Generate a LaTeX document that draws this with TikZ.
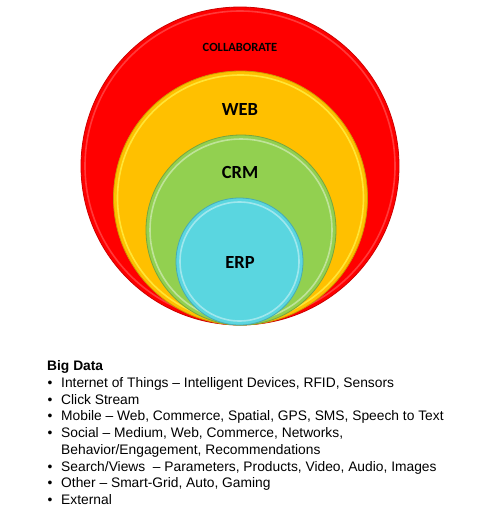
\documentclass[tikz,border=0pt]{standalone}
\usepackage{fontspec}
\setmainfont{Liberation Sans}
\newfontfamily\calib{Carlito}
\definecolor{cred}{HTML}{FF0000}
\definecolor{cyel}{HTML}{FFC000}
\definecolor{cgrn}{HTML}{92D050}
\definecolor{cblu}{HTML}{5AD6E0}
\begin{document}
\begin{tikzpicture}[x=1pt,y=-1pt,
  ring/.style={circle,inner sep=0pt,draw=#1!80!black,line width=0.8pt,fill=#1},
  rim/.style={circle,inner sep=0pt,draw=#1,line width=1.6pt,opacity=0.7},
  lbl/.style={text=black,inner sep=0pt},
  item/.style={anchor=base west,inner sep=0pt,font=\fontsize{13.8}{16.7}\selectfont},
  bul/.style={anchor=base west,inner sep=0pt,font=\fontsize{13.8}{16.7}\selectfont}]
\useasboundingbox[fill=white] (0,0) rectangle (480,520);
% circles
\node[ring=cred,minimum size=318pt] (red) at (240,166) {};
\node[rim=red!55!white,minimum size=310pt,opacity=0.5] (redrim) at (240,166) {};
\node[ring=cyel,minimum size=254pt] (yel) at (240.5,198) {};
\node[rim=yellow!70!white,minimum size=246pt] (yelrim) at (240.5,198) {};
\node[ring=cgrn,minimum size=190pt] (grn) at (241,230) {};
\node[rim=cgrn!40!white,minimum size=182pt] (grnrim) at (241,230) {};
\node[ring=cblu,minimum size=127pt] (blu) at (239.5,261.5) {};
\node[rim=cblu!40!white,minimum size=119pt] (blurim) at (239.5,261.5) {};
% labels
\node[lbl,font=\calib\bfseries\fontsize{12.5}{14}\selectfont] (collab) at (240,47) {COLLABORATE};
\node[lbl,font=\calib\bfseries\fontsize{18.5}{20}\selectfont] (web) at (240,109.5) {WEB};
\node[lbl,font=\calib\bfseries\fontsize{18.5}{20}\selectfont] (crm) at (240,172) {CRM};
\node[lbl,font=\calib\bfseries\fontsize{18.5}{20}\selectfont] (erp) at (240,262) {ERP};
% text block
\node[item,font=\bfseries\fontsize{13.8}{16.7}\selectfont] (bd) at (47,370.7) {Big Data};
\node[bul] (b1) at (47.5,387.5) {•};
\node[item] (t1) at (61,387.5) {Internet of Things – Intelligent Devices, RFID, Sensors};
\node[bul] (b2) at (47.5,404.2) {•};
\node[item] (t2) at (61,404.2) {Click Stream};
\node[bul] (b3) at (47.5,420.9) {•};
\node[item] (t3) at (61,420.9) {Mobile – Web, Commerce, Spatial, GPS, SMS, Speech to Text};
\node[bul] (b4) at (47.5,437.6) {•};
\node[item] (t4) at (61,437.6) {Social – Medium, Web, Commerce, Networks,};
\node[item] (t4b) at (61,454.3) {Behavior/Engagement, Recommendations};
\node[bul] (b5) at (47.5,471) {•};
\node[item] (t5) at (61,471) {Search/Views \ – Parameters, Products, Video, Audio, Images};
\node[bul] (b6) at (47.5,487.7) {•};
\node[item] (t6) at (61,487.7) {Other – Smart-Grid, Auto, Gaming};
\node[bul] (b7) at (47.5,504.4) {•};
\node[item] (t7) at (61,504.4) {External};
\end{tikzpicture}
\end{document}
